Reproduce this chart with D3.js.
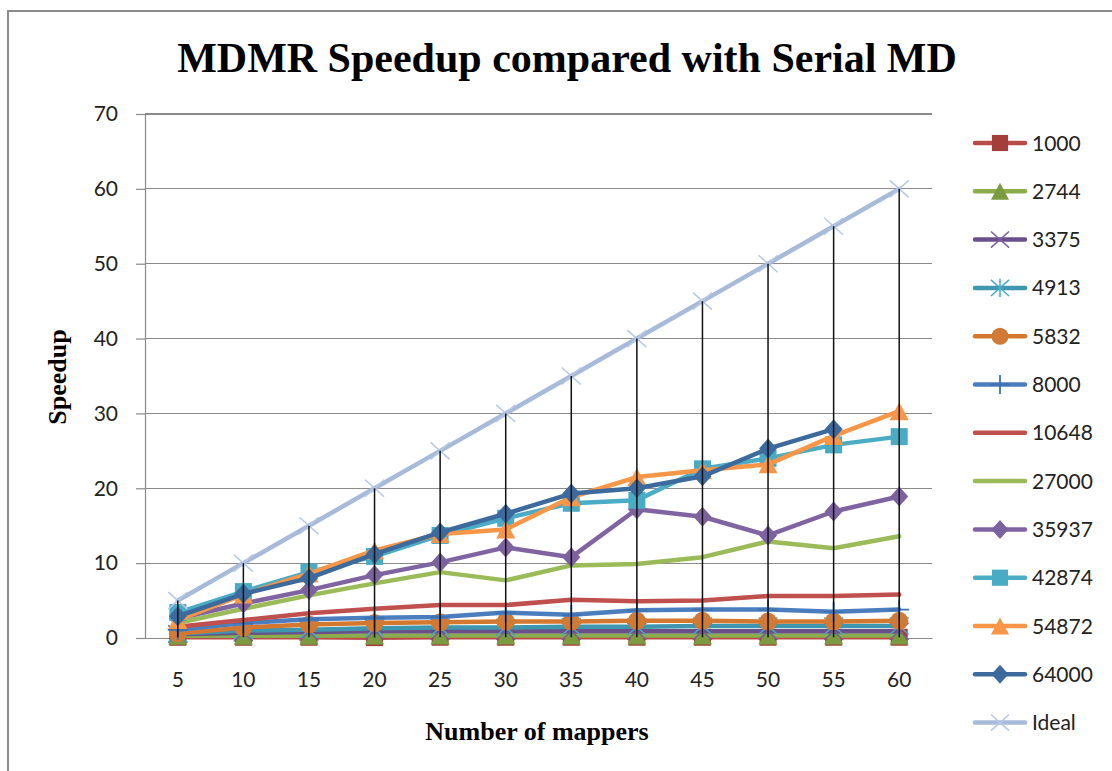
<!DOCTYPE html>
<html>
<head>
<meta charset="utf-8">
<script src="https://cdn.jsdelivr.net/npm/d3@7"></script>
<style>
  html, body { margin: 0; padding: 0; background: #ffffff; }
  svg { display: block; }
</style>
</head>
<body>
<svg id="chart" width="1112" height="771"></svg>
<script>
// Number of mappers (categories on the x axis)
const mappers = [5, 10, 15, 20, 25, 30, 35, 40, 45, 50, 55, 60];

// Speedup per problem size
const s1000  = [0.1, 0.1, 0.1, 0.05, 0.1, 0.1, 0.1, 0.1, 0.1, 0.1, 0.1, 0.1];
const s2744  = [0.3, 0.3, 0.3, 0.35, 0.35, 0.35, 0.35, 0.35, 0.35, 0.35, 0.35, 0.35];
const s3375  = [0.5, 0.7, 0.8, 0.9, 0.9, 0.9, 0.9, 0.9, 0.9, 0.9, 0.9, 0.9];
const s4913  = [0.6, 1.0, 1.1, 1.3, 1.4, 1.4, 1.5, 1.5, 1.6, 1.6, 1.6, 1.6];
const s5832  = [0.6, 1.4, 1.8, 2.0, 2.1, 2.2, 2.2, 2.3, 2.3, 2.2, 2.2, 2.3];
const s8000  = [1.1, 2.0, 2.5, 2.7, 2.8, 3.4, 3.1, 3.7, 3.8, 3.8, 3.5, 3.8];
const s10648 = [1.5, 2.4, 3.3, 3.9, 4.4, 4.4, 5.1, 4.9, 5.0, 5.6, 5.6, 5.8];
const s27000 = [2.0, 3.9, 5.7, 7.3, 8.8, 7.7, 9.7, 9.9, 10.8, 12.9, 12.0, 13.6];
const s35937 = [2.6, 4.6, 6.4, 8.4, 10.1, 12.1, 10.8, 17.2, 16.2, 13.7, 16.9, 18.9];
const s42874 = [3.4, 6.2, 8.8, 10.9, 13.7, 16.0, 18.0, 18.4, 22.6, 24.0, 25.8, 26.9];
const s54872 = [2.4, 5.8, 8.6, 11.7, 13.9, 14.5, 18.8, 21.5, 22.4, 23.2, 27.0, 30.3];
const s64000 = [2.9, 5.9, 8.0, 11.2, 14.1, 16.6, 19.3, 20.0, 21.6, 25.3, 27.9, null];
const ideal  = [5, 10, 15, 20, 25, 30, 35, 40, 45, 50, 55, 60];

const yTicks = [0, 10, 20, 30, 40, 50, 60, 70];

const seriesNames = ["1000", "2744", "3375", "4913", "5832", "8000", "10648",
                     "27000", "35937", "42874", "54872", "64000", "Ideal"];
const seriesValues = [s1000, s2744, s3375, s4913, s5832, s8000, s10648,
                      s27000, s35937, s42874, s54872, s64000, ideal];

// Line colour, marker colour and marker shape for each series
const styles = [
  { line: "#B94A47", mark: "#A43E3B", shape: "square" },
  { line: "#8BAD4B", mark: "#7A9B40", shape: "triangle" },
  { line: "#6A4F8A", mark: "#7B5F9E", shape: "x" },
  { line: "#3E97AE", mark: "#4AA9C2", shape: "asterisk" },
  { line: "#D4782F", mark: "#D07A35", shape: "circle" },
  { line: "#4A7EBE", mark: "#3F72B0", shape: "plus" },
  { line: "#C0504D", mark: "#C0504D", shape: "none" },
  { line: "#9BBB59", mark: "#9BBB59", shape: "none" },
  { line: "#8064A2", mark: "#7D62A0", shape: "diamond" },
  { line: "#4BACC6", mark: "#4AABC5", shape: "square" },
  { line: "#F79646", mark: "#F79646", shape: "triangle" },
  { line: "#3D6A9D", mark: "#3D6A9D", shape: "diamond" },
  { line: "#A7BAD9", mark: "#B7C8E4", shape: "x" }
];

const svg = d3.select("#chart");

// chart frame
svg.append("rect")
  .attr("x", 8).attr("y", 11)
  .attr("width", 1120).attr("height", 780)
  .attr("fill", "#ffffff")
  .attr("stroke", "#8C8C8C").attr("stroke-width", 2);

const plot = { left: 145, right: 932, top: 114, bottom: 638 };

const x = d3.scaleBand().domain(mappers).range([plot.left, plot.right]).padding(0);
const cx = v => x(v) + x.bandwidth() / 2;
const y = d3.scaleLinear().domain([0, 70]).range([plot.bottom, plot.top]);

// horizontal gridlines
svg.append("g")
  .selectAll("line")
  .data(yTicks.filter(t => t > 0))
  .join("line")
  .attr("x1", plot.left).attr("x2", plot.right)
  .attr("y1", d => y(d)).attr("y2", d => y(d))
  .attr("stroke", "#8A8A8A").attr("stroke-width", 1.2)
  .attr("shape-rendering", "crispEdges");

// y axis
const yAxis = d3.axisLeft(y).tickValues(yTicks).tickSize(9).tickPadding(18);
const gy = svg.append("g").attr("transform", `translate(${plot.left},0)`).call(yAxis);
gy.select(".domain").attr("stroke", "#8A8A8A").attr("stroke-width", 1.2);
gy.selectAll(".tick line").attr("stroke", "#8A8A8A").attr("stroke-width", 1.2);
gy.selectAll(".tick text")
  .attr("font-family", "Lato, 'Open Sans', sans-serif")
  .attr("font-size", 21).attr("fill", "#222");

// x axis
const xAxis = d3.axisBottom(x).tickSize(0).tickPadding(34);
const gx = svg.append("g").attr("transform", `translate(0,${plot.bottom})`).call(xAxis);
gx.select(".domain").attr("stroke", "#8A8A8A").attr("stroke-width", 1.2);
gx.selectAll(".tick text")
  .attr("font-family", "Lato, 'Open Sans', sans-serif")
  .attr("font-size", 21).attr("fill", "#222");

// marker drawing
function drawMarker(g, shape, color, px, py, scale) {
  const k = scale || 1;
  if (shape === "square") {
    const s = 17 * k;
    g.append("rect").attr("x", px - s / 2).attr("y", py - s / 2)
      .attr("width", s).attr("height", s).attr("fill", color);
  } else if (shape === "triangle") {
    const w = 19 * k, h = 18 * k;
    g.append("path")
      .attr("d", `M${px},${py - h / 2}L${px + w / 2},${py + h / 2}L${px - w / 2},${py + h / 2}Z`)
      .attr("fill", color);
  } else if (shape === "diamond") {
    const w = 18 * k, h = 20 * k;
    g.append("path")
      .attr("d", `M${px},${py - h / 2}L${px + w / 2},${py}L${px},${py + h / 2}L${px - w / 2},${py}Z`)
      .attr("fill", color);
  } else if (shape === "circle") {
    g.append("circle").attr("cx", px).attr("cy", py).attr("r", 9 * k).attr("fill", color);
  } else if (shape === "x" || shape === "asterisk") {
    const w = 9.5 * k, h = 8.5 * k;
    g.append("path")
      .attr("d", `M${px - w},${py - h}L${px + w},${py + h}M${px - w},${py + h}L${px + w},${py - h}` +
        (shape === "asterisk" ? `M${px},${py - h - 1}L${px},${py + h + 1}` : ""))
      .attr("stroke", color).attr("stroke-width", 1.5).attr("fill", "none");
  } else if (shape === "plus") {
    const s = 10 * k;
    g.append("path")
      .attr("d", `M${px},${py - s}L${px},${py + s}M${px - s},${py}L${px + s},${py}`)
      .attr("stroke", color).attr("stroke-width", 1.8).attr("fill", "none");
  }
}

// series lines and markers
const line = d3.line()
  .defined(d => d.v !== null)
  .x(d => cx(d.m))
  .y(d => y(d.v));

const seriesG = svg.append("g");
seriesNames.forEach((name, i) => {
  const st = styles[i];
  const pts = mappers.map((m, j) => ({ m, v: seriesValues[i][j] }));
  const g = seriesG.append("g").attr("class", "series-" + name);
  g.append("path")
    .datum(pts)
    .attr("d", line)
    .attr("fill", "none")
    .attr("stroke", st.line)
    .attr("stroke-width", 4.5)
    .attr("stroke-linejoin", "round")
    .attr("stroke-linecap", "round");
  pts.filter(p => p.v !== null).forEach(p => drawMarker(g, st.shape, st.mark, cx(p.m), y(p.v)));
});

// high-low lines spanning all series at each mapper count
const hiLo = mappers.map((m, j) => {
  const vals = seriesValues.map(s => s[j]).filter(v => v !== null);
  return { m, lo: d3.min(vals), hi: d3.max(vals) };
});
svg.append("g")
  .selectAll("line")
  .data(hiLo)
  .join("line")
  .attr("x1", d => cx(d.m)).attr("x2", d => cx(d.m))
  .attr("y1", d => y(d.lo)).attr("y2", d => y(d.hi))
  .attr("stroke", "#111").attr("stroke-width", 1.5);

// legend
const legend = svg.append("g");
seriesNames.forEach((name, i) => {
  const st = styles[i];
  const ly = 143 + i * 48.3;
  const g = legend.append("g");
  g.append("line")
    .attr("x1", 975).attr("x2", 1025).attr("y1", ly).attr("y2", ly)
    .attr("stroke", st.line).attr("stroke-width", 4.5).attr("stroke-linecap", "round");
  drawMarker(g, st.shape, st.mark, 1000, ly, 0.95);
  g.append("text")
    .attr("x", 1032).attr("y", ly)
    .attr("dy", "0.36em")
    .attr("font-family", "Lato, 'Open Sans', sans-serif")
    .attr("font-size", 21).attr("fill", "#222")
    .text(name);
});

// titles
svg.append("text")
  .attr("x", 567).attr("y", 72)
  .attr("text-anchor", "middle")
  .attr("font-family", "'Liberation Serif', 'Times New Roman', serif")
  .attr("font-weight", "bold").attr("font-size", 42)
  .attr("fill", "#000")
  .text("MDMR Speedup compared with Serial MD");

svg.append("text")
  .attr("x", 537).attr("y", 740)
  .attr("text-anchor", "middle")
  .attr("font-family", "'Liberation Serif', 'Times New Roman', serif")
  .attr("font-weight", "bold").attr("font-size", 26)
  .attr("fill", "#000")
  .text("Number of mappers");

svg.append("text")
  .attr("transform", "translate(66,377) rotate(-90)")
  .attr("text-anchor", "middle")
  .attr("font-family", "'Liberation Serif', 'Times New Roman', serif")
  .attr("font-weight", "bold").attr("font-size", 26)
  .attr("fill", "#000")
  .text("Speedup");
</script>
</body>
</html>
